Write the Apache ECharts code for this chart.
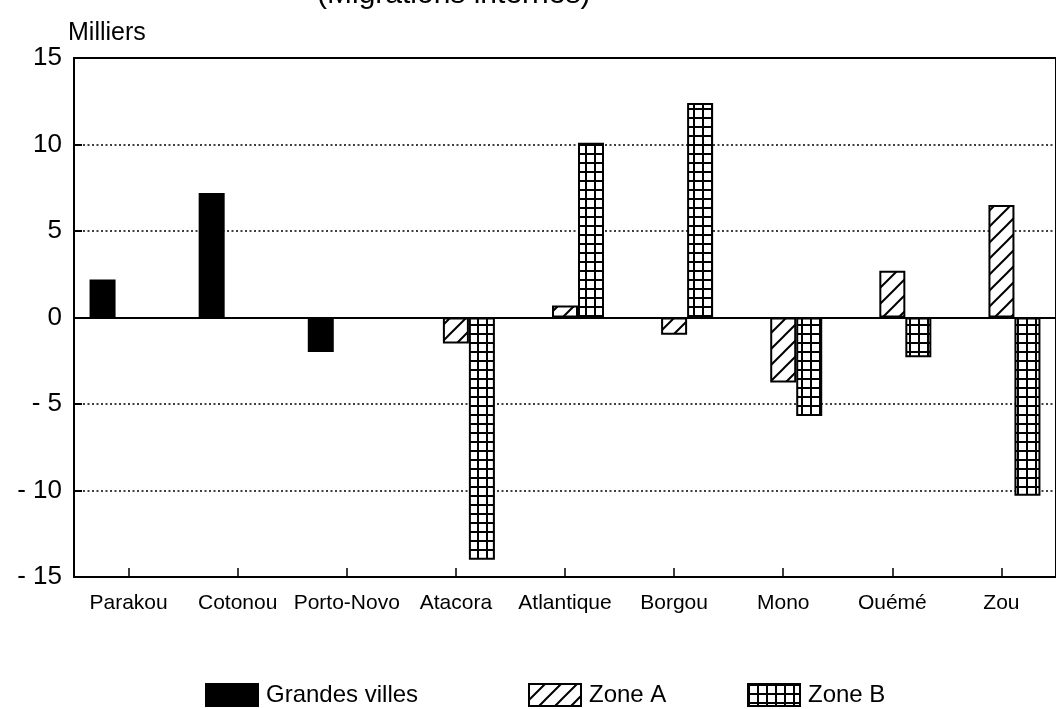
<!DOCTYPE html>
<html>
<head>
<meta charset="utf-8">
<script src="https://cdn.jsdelivr.net/npm/echarts@6/dist/echarts.min.js"></script>
<style>
  html, body { margin: 0; padding: 0; background: #fff; }
  #chart { width: 1056px; height: 709px; }
</style>
</head>
<body>
<div id="chart"></div>
<script>
// Soldes migratoires par zone (milliers)
const categories = ['Parakou', 'Cotonou', 'Porto-Novo', 'Atacora', 'Atlantique', 'Borgou', 'Mono', 'Ouémé', 'Zou'];
const grandesVilles = [2.2, 7.2, -2.0, null, null, null, null, null, null];
const zoneA = [null, null, null, -1.5, 0.7, -1.0, -3.75, 2.7, 6.5];
const zoneB = [null, null, null, -14.0, 10.1, 12.4, -5.7, -2.3, -10.3];
const yTicks = { min: -15, max: 15, step: 5 };
const seriesNames = ['Grandes villes', 'Zone A', 'Zone B'];

const FONT = '"Liberation Sans", Arial, sans-serif';

// Diagonal hatch fill
function hatchPattern() {
  const c = document.createElement('canvas');
  c.width = 16; c.height = 16;
  const g = c.getContext('2d');
  g.fillStyle = '#fff';
  g.fillRect(0, 0, 16, 16);
  g.strokeStyle = '#000';
  g.lineWidth = 2;
  g.beginPath();
  g.moveTo(-2, 18); g.lineTo(18, -2);
  g.moveTo(-2, 2); g.lineTo(2, -2);
  g.moveTo(14, 18); g.lineTo(18, 14);
  g.stroke();
  return c;
}

// Square grid fill
function gridPattern() {
  const s = 9;
  const c = document.createElement('canvas');
  c.width = s; c.height = s;
  const g = c.getContext('2d');
  g.fillStyle = '#fff';
  g.fillRect(0, 0, s, s);
  g.fillStyle = '#000';
  g.fillRect(0, 0, s, 2);
  g.fillRect(0, 0, 2, s);
  return c;
}

const chart = echarts.init(document.getElementById('chart'));

const barBase = {
  type: 'bar',
  barWidth: 26,
  barGap: '0%',
  animation: false
};

// One legend block per series so each swatch sits at its own spot
const legendLefts = [200, 523, 742];
const legends = seriesNames.map((name, i) => ({
  left: legendLefts[i],
  top: 678,
  itemWidth: 52,
  itemHeight: 22,
  icon: 'rect',
  textStyle: { fontFamily: FONT, fontSize: 24, color: '#000', padding: [0, 0, 0, 3] },
  data: [name]
}));

chart.setOption({
  animation: false,
  backgroundColor: '#fff',
  title: {
    text: '(Migrations internes)',
    left: 312,
    top: -25,
    textStyle: { fontFamily: FONT, fontSize: 30, fontWeight: 'normal', color: '#000' }
  },
  grid: {
    left: 74,
    top: 58,
    width: 986,
    height: 519,
    show: true,
    borderColor: '#000',
    borderWidth: 2,
    backgroundColor: 'transparent'
  },
  legend: legends,
  xAxis: {
    type: 'category',
    data: categories,
    axisLine: { onZero: false, lineStyle: { color: '#000', width: 2 } },
    axisTick: { show: true, inside: true, alignWithLabel: true, length: 9, lineStyle: { color: '#000', width: 1.5 } },
    axisLabel: { interval: 0, margin: 16, fontFamily: FONT, fontSize: 21, color: '#000' },
    splitLine: { show: false }
  },
  yAxis: {
    type: 'value',
    min: yTicks.min,
    max: yTicks.max,
    interval: yTicks.step,
    name: 'Milliers',
    nameLocation: 'end',
    nameGap: 12,
    nameTextStyle: { fontFamily: FONT, fontSize: 25, color: '#000', align: 'left', padding: [0, 0, 0, -6] },
    axisLine: { show: true, lineStyle: { color: '#000', width: 2 } },
    axisTick: { show: true, inside: true, length: 8, lineStyle: { color: '#000', width: 2 } },
    axisLabel: {
      margin: 12,
      fontFamily: FONT,
      fontSize: 26,
      color: '#000',
      formatter: v => (v < 0 ? '- ' + Math.abs(v) : String(v))
    },
    splitLine: { show: true, lineStyle: { color: '#000', width: 1.6, type: [2, 2.5] } }
  },
  series: [
    Object.assign({}, barBase, {
      name: seriesNames[0],
      data: grandesVilles,
      itemStyle: { color: '#000', borderColor: '#000', borderWidth: 2 },
      markLine: {
        silent: true,
        symbol: ['none', 'none'],
        label: { show: false },
        lineStyle: { color: '#000', width: 2, type: 'solid' },
        data: [{ yAxis: 0 }]
      }
    }),
    Object.assign({}, barBase, {
      name: seriesNames[1],
      data: zoneA,
      itemStyle: { color: { image: hatchPattern(), repeat: 'repeat' }, borderColor: '#000', borderWidth: 2 }
    }),
    Object.assign({}, barBase, {
      name: seriesNames[2],
      data: zoneB,
      itemStyle: { color: { image: gridPattern(), repeat: 'repeat' }, borderColor: '#000', borderWidth: 2 }
    })
  ]
});
</script>
</body>
</html>
